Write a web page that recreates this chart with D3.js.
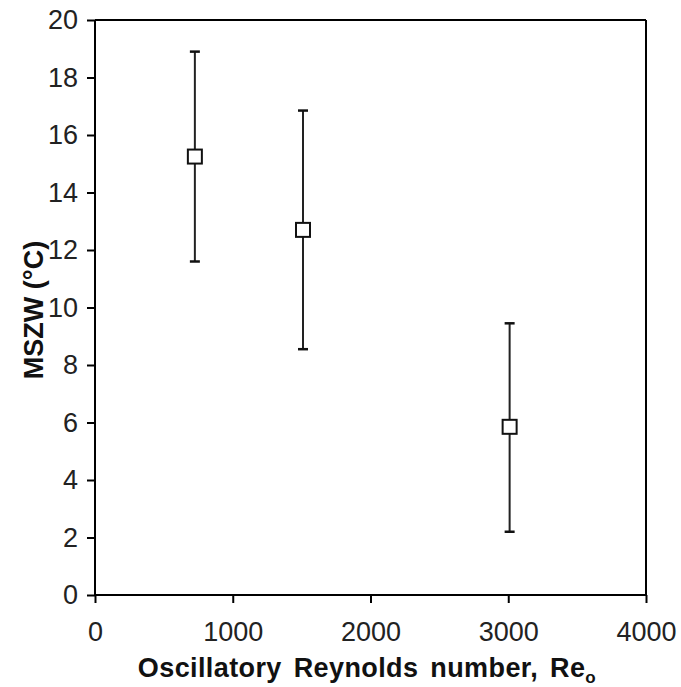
<!DOCTYPE html>
<html>
<head>
<meta charset="utf-8">
<script src="https://cdn.jsdelivr.net/npm/d3@7"></script>
<style>
  body { margin: 0; background: #fff; }
  text { font-family: "Liberation Sans", Arial, sans-serif; }
</style>
</head>
<body>
<script>
// data
var reynolds = [725, 1510, 3010];
var mszw = [15.25, 12.7, 5.85];
var errLow = [11.6, 8.55, 2.2];
var errHigh = [18.9, 16.85, 9.45];
var xTicks = [0, 1000, 2000, 3000, 4000];
var yTicks = [0, 2, 4, 6, 8, 10, 12, 14, 16, 18, 20];

var W = 681, H = 687;
var margin = {left: 95, right: 35, top: 20, bottom: 92};
var width = W - margin.left - margin.right,
    height = H - margin.top - margin.bottom;

var svg = d3.select("body").append("svg")
    .attr("width", W)
    .attr("height", H);
var g = svg.append("g")
    .attr("transform", "translate(" + margin.left + "," + margin.top + ")");

var x = d3.scaleLinear().domain([0, 4000]).range([0, width]);
var y = d3.scaleLinear().domain([0, 20]).range([height, 0]);

var data = reynolds.map(function(r, i) {
  return {x: r, y: mszw[i], lo: errLow[i], hi: errHigh[i]};
});

// frame: top and right lines
g.append("line").attr("x1", 0).attr("x2", width).attr("y1", 0).attr("y2", 0)
    .attr("stroke", "#000").attr("stroke-width", 2);
g.append("line").attr("x1", width).attr("x2", width).attr("y1", 0).attr("y2", height)
    .attr("stroke", "#000").attr("stroke-width", 2);

// axes
var xAxis = d3.axisBottom(x).tickValues(xTicks).tickSize(8).tickPadding(19)
    .tickFormat(d3.format("d"));
var yAxis = d3.axisLeft(y).tickValues(yTicks).tickSize(8).tickPadding(9);

var gX = g.append("g").attr("transform", "translate(0," + height + ")").call(xAxis);
var gY = g.append("g").call(yAxis);
[gX, gY].forEach(function(ax) {
  ax.attr("font-size", null).attr("font-family", null);
  ax.select(".domain").attr("stroke-width", 2);
  ax.selectAll(".tick line").attr("stroke-width", 2);
  ax.selectAll(".tick text").style("font-size", "27px").attr("fill", "#222");
});
gX.select(".domain").attr("d", "M0,0H" + width);
gY.select(".domain").attr("d", "M0," + height + "V0");

// error bars
var bars = g.selectAll(".err").data(data).enter().append("g").attr("class", "err");
bars.append("line")
    .attr("x1", function(d) { return x(d.x); })
    .attr("x2", function(d) { return x(d.x); })
    .attr("y1", function(d) { return y(d.lo); })
    .attr("y2", function(d) { return y(d.hi); })
    .attr("stroke", "#222").attr("stroke-width", 2);
bars.append("line")
    .attr("x1", function(d) { return x(d.x) - 5; })
    .attr("x2", function(d) { return x(d.x) + 5; })
    .attr("y1", function(d) { return y(d.lo); })
    .attr("y2", function(d) { return y(d.lo); })
    .attr("stroke", "#111").attr("stroke-width", 2.5);
bars.append("line")
    .attr("x1", function(d) { return x(d.x) - 5; })
    .attr("x2", function(d) { return x(d.x) + 5; })
    .attr("y1", function(d) { return y(d.hi); })
    .attr("y2", function(d) { return y(d.hi); })
    .attr("stroke", "#111").attr("stroke-width", 2.5);

// square markers
g.selectAll(".pt").data(data).enter().append("rect")
    .attr("class", "pt")
    .attr("x", function(d) { return x(d.x) - 7; })
    .attr("y", function(d) { return y(d.y) - 7; })
    .attr("width", 14).attr("height", 14)
    .attr("fill", "#fff").attr("stroke", "#111").attr("stroke-width", 2);

// axis titles
var xt = svg.append("text")
    .attr("x", 367)
    .attr("y", 677)
    .attr("text-anchor", "middle")
    .style("font-size", "27px").style("word-spacing", "4px").style("letter-spacing", "0.4px")
    .attr("font-weight", "bold").attr("fill", "#111");
xt.append("tspan").text("Oscillatory Reynolds number, Re");
xt.append("tspan").style("font-size", "17px").attr("dy", 6).text("o");

svg.append("text")
    .attr("transform", "translate(43,310) rotate(-90)")
    .attr("text-anchor", "middle")
    .style("font-size", "27px")
    .attr("font-weight", "bold").attr("fill", "#111")
    .text("MSZW (\u00B0C)");
</script>
</body>
</html>
